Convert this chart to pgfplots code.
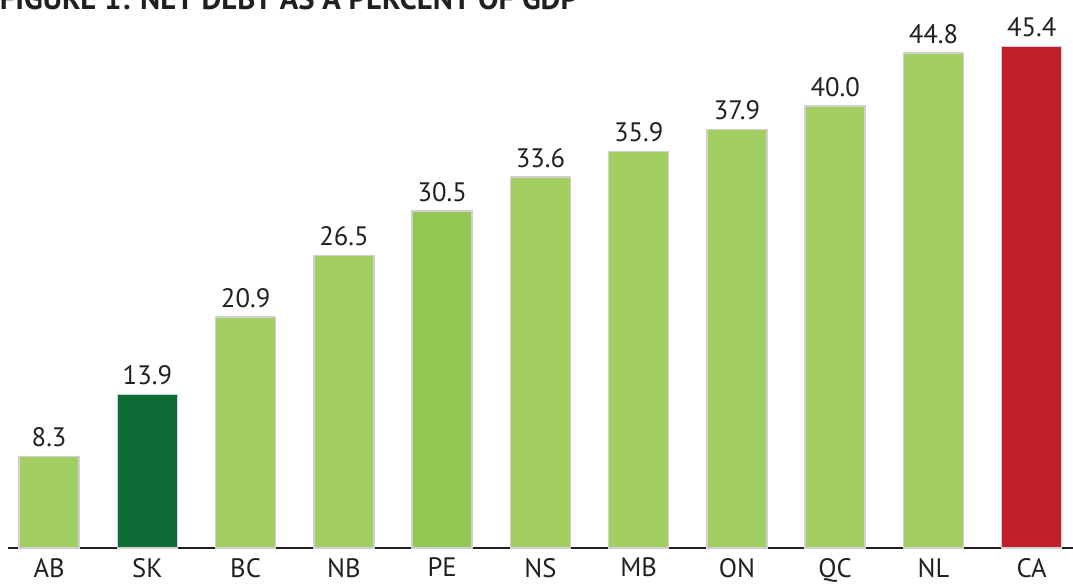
\documentclass[border=0pt]{standalone}
\usepackage{pgfplots}
\pgfplotsset{compat=1.18}
\usepackage{fontspec}
\setmainfont{PT Sans}
\definecolor{lg}{HTML}{A3CF62}
\definecolor{dg}{HTML}{0F6B38}
\definecolor{mg}{HTML}{92C853}
\definecolor{rd}{HTML}{C1202A}
\definecolor{txt}{HTML}{231F20}
\begin{document}
\begin{tikzpicture}
\begin{axis}[
  scale only axis,
  width=798.75pt, height=411pt,
  xmin=-0.42, xmax=10.42, ymin=0, ymax=49.6,
  ybar, bar width=45pt, bar shift=0pt,
  axis x line=bottom, axis y line=none,
  axis line style={-, line width=1.5pt, color=txt},
  xtick={0,...,10},
  xticklabels={AB,SK,BC,NB,PE,NS,MB,ON,QC,NL,CA},
  major tick length=0pt,
  xticklabel style={font=\fontsize{20}{22}\selectfont, color=txt, yshift=-4pt},
  nodes near coords,
  every node near coord/.append style={font=\fontsize{20}{22}\selectfont, color=txt, yshift=3pt,
    /pgf/number format/.cd, fixed, fixed zerofill, precision=1},
  /pgf/number format/assume math mode=true,
  clip=false,
]
\addplot[fill=lg, draw=black!18, line width=1.1pt] coordinates {(0,8.3) (2,20.9) (3,26.5) (5,33.6) (6,35.9) (7,37.9) (8,40.0) (9,44.8)};
\addplot[fill=dg, draw=black!18, line width=1.1pt] coordinates {(1,13.9)};
\addplot[fill=mg, draw=black!18, line width=1.1pt] coordinates {(4,30.5)};
\addplot[fill=rd, draw=black!18, line width=1.1pt] coordinates {(10,45.4)};
\node[anchor=base west, inner sep=0pt, font=\fontsize{23}{25}\bfseries, color=txt] at (axis cs:-0.505,48.7) {FIGURE 1: NET DEBT AS A PERCENT OF GDP};
\coordinate (bl) at (axis cs:-0.5,-3.4);
\coordinate (tr) at (axis cs:10.42,49.6);
\end{axis}
\pgfresetboundingbox
\useasboundingbox (bl) rectangle (tr);
\end{tikzpicture}
\end{document}
